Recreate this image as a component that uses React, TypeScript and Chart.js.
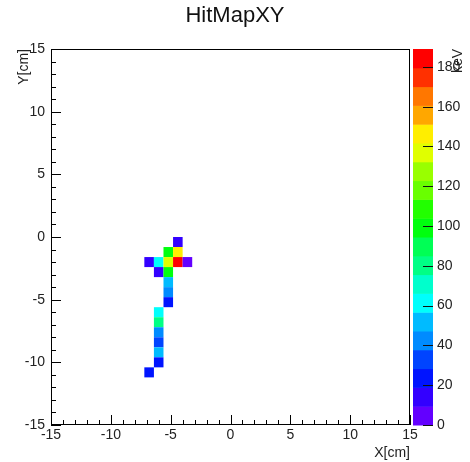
import React, { useEffect, useRef } from "react";
import { Chart, registerables } from "chart.js";

Chart.register(...registerables);

const TITLE = "HitMapXY";
const X_TITLE = "X[cm]";
const Y_TITLE = "Y[cm]";
const Z_TITLE = "keV";

const AXIS_MIN = -15;
const AXIS_MAX = 15;
const BIN = 0.8;
const Z_MAX = 189;
const N_CONTOURS = 20;

// cell centres (cm) and deposited energy (keV)
const cellX = [-4.4, -5.2, -4.4, -6.8, -6.0, -5.2, -4.4, -3.6, -6.0, -5.2, -5.2, -5.2, -5.2, -6.0, -6.0, -6.0, -6.0, -6.0, -6.0, -6.8];
const cellY = [-0.4, -1.2, -1.2, -2.0, -2.0, -2.0, -2.0, -2.0, -2.8, -2.8, -3.6, -4.4, -5.2, -6.0, -6.8, -7.6, -8.4, -9.2, -10.0, -10.8];
const cellE = [14, 98, 146, 13, 64, 137, 189, 9, 14, 96, 50, 42, 22, 62, 80, 43, 33, 52, 22, 19];

const xyTicks = [-15, -10, -5, 0, 5, 10, 15];
const zTicks = [0, 20, 40, 60, 80, 100, 120, 140, 160, 180];
const MINOR_STEP = 1;

const FONT = "'Liberation Sans', Arial, Helvetica, sans-serif";

function bandColor(k: number): string {
  const idx = Math.floor(((k + 0.99) * 50) / N_CONTOURS);
  const hue = Math.max(0, 280 - (idx + 1) * 5.6);
  return `hsl(${hue}, 100%, 50%)`;
}

function colorFor(v: number): string {
  const k = Math.min(N_CONTOURS - 1, Math.max(0, Math.floor((v / Z_MAX) * N_CONTOURS)));
  return bandColor(k);
}

const heatPlugin = {
  id: "heat",
  beforeDatasetsDraw(chart: any) {
    const { ctx, chartArea, scales } = chart;
    const xs = scales.x;
    const ys = scales.y;
    ctx.save();
    ctx.beginPath();
    ctx.rect(chartArea.left, chartArea.top, chartArea.right - chartArea.left, chartArea.bottom - chartArea.top);
    ctx.clip();
    const pts = chart.data.datasets[0].data as any[];
    pts.forEach((p) => {
      const x0 = xs.getPixelForValue(p.x - BIN / 2);
      const x1 = xs.getPixelForValue(p.x + BIN / 2);
      const y0 = ys.getPixelForValue(p.y + BIN / 2);
      const y1 = ys.getPixelForValue(p.y - BIN / 2);
      ctx.fillStyle = colorFor(p.e);
      ctx.fillRect(x0, y0, x1 - x0, y1 - y0);
    });
    ctx.restore();
  },
  afterDraw(chart: any) {
    const { ctx, chartArea, scales } = chart;
    const xs = scales.x;
    const ys = scales.y;
    const zs = scales.z;
    const { left, right, top, bottom } = chartArea;
    ctx.save();
    ctx.strokeStyle = "#000";
    ctx.lineWidth = 1;
    // frame
    ctx.strokeRect(Math.round(left) + 0.5, Math.round(top) + 0.5, Math.round(right - left) - 1, Math.round(bottom - top) - 1);
    // ticks
    ctx.beginPath();
    for (let v = AXIS_MIN; v <= AXIS_MAX; v += MINOR_STEP) {
      const len = Math.abs(v % 5) === 0 ? 10 : 5;
      const px = Math.round(xs.getPixelForValue(v)) + 0.5;
      ctx.moveTo(px, bottom);
      ctx.lineTo(px, bottom - len);
      const py = Math.round(ys.getPixelForValue(v)) + 0.5;
      ctx.moveTo(left, py);
      ctx.lineTo(left + len, py);
    }
    ctx.stroke();

    // colour bar
    const barL = right + 3;
    const barR = right + 23;
    for (let k = 0; k < N_CONTOURS; k++) {
      const yb = zs.getPixelForValue((k * Z_MAX) / N_CONTOURS);
      const yt = zs.getPixelForValue(((k + 1) * Z_MAX) / N_CONTOURS);
      ctx.fillStyle = bandColor(k);
      ctx.fillRect(barL, yt, barR - barL, yb - yt + 0.5);
    }
    ctx.beginPath();
    zTicks.forEach((t) => {
      const py = Math.round(zs.getPixelForValue(t)) + 0.5;
      ctx.moveTo(barR - 10, py);
      ctx.lineTo(barR, py);
    });
    ctx.strokeStyle = "#111";
    ctx.stroke();

    // z title
    ctx.fillStyle = "#222";
    ctx.font = `14px ${FONT}`;
    ctx.translate(458, top);
    ctx.rotate(-Math.PI / 2);
    ctx.textAlign = "right";
    ctx.textBaseline = "middle";
    ctx.fillText(Z_TITLE, 0, 0);
    ctx.restore();
  },
};

export default function App() {
  const ref = useRef<HTMLCanvasElement | null>(null);
  useEffect(() => {
    if (!ref.current) return;
    const data = cellX.map((x, i) => ({ x, y: cellY[i], e: cellE[i] }));
    const tickFont = { family: FONT, size: 14 };
    const chart = new Chart(ref.current, {
      type: "scatter",
      data: {
        datasets: [
          {
            data,
            pointRadius: 0,
            pointHoverRadius: 0,
            showLine: false,
          },
        ],
      },
      options: {
        animation: false,
        responsive: false,
        devicePixelRatio: 1,
        events: [],
        layout: { padding: 0 },
        plugins: {
          legend: { display: false },
          tooltip: { enabled: false },
          title: {
            display: true,
            text: TITLE,
            color: "#111",
            font: { family: FONT, size: 22, weight: "normal" },
            padding: { top: 3, bottom: 19.6 },
          },
        },
        scales: {
          x: {
            type: "linear",
            position: "bottom",
            min: AXIS_MIN,
            max: AXIS_MAX,
            grid: { display: false, drawTicks: false },
            border: { display: false },
            ticks: { color: "#222", font: tickFont, padding: 2, maxRotation: 0 },
            afterBuildTicks: (s: any) => {
              s.ticks = xyTicks.map((v) => ({ value: v }));
            },
            afterFit: (s: any) => {
              s.height = 37;
            },
            title: {
              display: true,
              text: X_TITLE,
              align: "end",
              color: "#222",
              font: { family: FONT, size: 14 },
              padding: { top: 0, bottom: 0 },
            },
          },
          y: {
            type: "linear",
            position: "left",
            min: AXIS_MIN,
            max: AXIS_MAX,
            grid: { display: false, drawTicks: false },
            border: { display: false },
            ticks: { color: "#222", font: tickFont, padding: 6 },
            afterBuildTicks: (s: any) => {
              s.ticks = xyTicks.map((v) => ({ value: v }));
            },
            afterFit: (s: any) => {
              s.width = 51;
            },
            title: {
              display: true,
              text: Y_TITLE,
              align: "end",
              color: "#222",
              font: { family: FONT, size: 14 },
              padding: { top: 16, bottom: 0 },
            },
          },
          z: {
            type: "linear",
            position: "right",
            min: 0,
            max: Z_MAX,
            grid: { display: false, drawTicks: false },
            border: { display: false },
            ticks: { color: "#222", font: tickFont, padding: 27 },
            afterBuildTicks: (s: any) => {
              s.ticks = zTicks.map((v) => ({ value: v }));
            },
            afterFit: (s: any) => {
              s.width = 60;
            },
          },
        },
      } as any,
      plugins: [heatPlugin],
    });
    return () => chart.destroy();
  }, []);

  return (
    <div style={{ position: "absolute", left: 0, top: 0, width: 470, height: 462, background: "#fff" }}>
      <canvas ref={ref} width={470} height={462} style={{ width: 470, height: 462, display: "block" }} />
    </div>
  );
}
